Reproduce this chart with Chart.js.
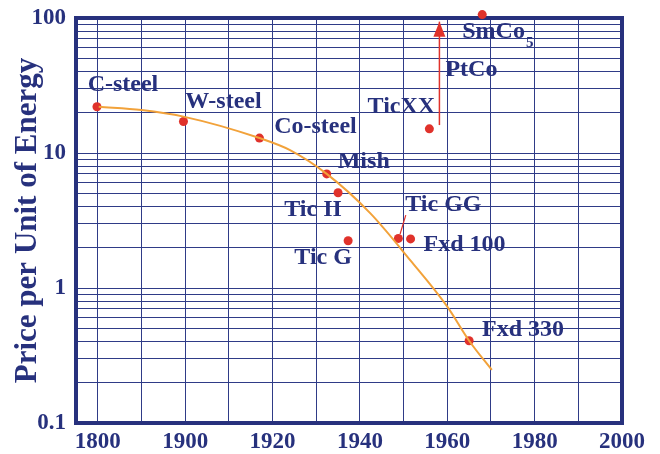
<!DOCTYPE html>
<html><head><meta charset="utf-8">
<script src="https://cdn.jsdelivr.net/npm/chart.js@4/dist/chart.umd.min.js"></script>
<style>html,body{margin:0;padding:0;background:#fff}#wrap{width:660px;height:454px}</style>
</head><body><div id="wrap"><canvas id="c" width="660" height="454"></canvas></div>
<script>
// ---- data ----
const magnetNames  = ['C-steel','W-steel','Co-steel','Mish','Tic II','Tic G','Tic GG','Fxd 100','TicXX','SmCo','Fxd 330'];
const magnetYears  = [1799, 1898, 1917, 1932.4, 1935, 1937.3, 1948.8, 1951.6, 1955.9, 1968, 1965];
const magnetPrices = [22, 17.1, 12.9, 7.0, 5.08, 2.24, 2.33, 2.31, 15.1, 106, 0.407];
const trendYears   = [1801, 1850, 1898, 1917, 1924, 1932.4, 1942.4, 1951.5, 1960, 1965, 1970.2];
const trendPrices  = [22, 20.8, 18.6, 12.9, 10.5, 7.0, 3.57, 1.61, 0.728, 0.407, 0.247];
const ptcoYears    = [1958.2, 1958.2];
const ptcoPrices   = [16.1, 94];
const leaderYears  = [1949.2, 1950.5];
const leaderPrices = [2.51, 3.47];
const xTickYears   = [1800, 1900, 1920, 1940, 1960, 1980, 2000];
const yTickLabels  = [0.1, 1, 10, 100];

// ---- styles ----
const NAVY = '#27317d';
const GRID = '#2f3b87';
const RED = '#e0322b';
const ORANGE = '#f2a23a';
const FONT = '"Liberation Serif", "Times New Roman", serif';
// label offsets (px) relative to each magnet point
const labelOffsets = [[26,-22],[40,-20],[56,-11],[37,-12],[-25,17],[-25,17],[45,-34],[54,6],[-28,-22],[-20,17],[54,-11]];
const ptcoLabel = {text:'PtCo', dx:32, dy:-55};

// broken time axis: 1800..1900 compressed, 10 years per grid step after 1900
function yearToU(y){ return y < 1900 ? (y - 1800) / 50 : 2 + (y - 1900) / 10; }
const toPts = (xs, ys) => xs.map((x,i) => ({x: yearToU(x), y: ys[i]}));

const yGridValues = [];
[0.1, 1, 10].forEach(d => { for (let k = 1; k <= 9; k++) yGridValues.push(+(k*d).toPrecision(3)); });
yGridValues.push(100);

const overlay = {
  id: 'overlay',
  beforeDatasetsDraw(chart){
    const {ctx, chartArea:a} = chart;
    ctx.save();
    ctx.strokeStyle = NAVY; ctx.lineWidth = 4;
    ctx.strokeRect(a.left, a.top, a.right - a.left, a.bottom - a.top);
    ctx.restore();
  },
  afterDatasetsDraw(chart){
    const {ctx} = chart;
    ctx.save();
    // arrow head of PtCo
    const am = chart.getDatasetMeta(1).data;
    const tip = am[am.length-1];
    ctx.fillStyle = RED;
    ctx.beginPath();
    ctx.moveTo(tip.x, tip.y);
    ctx.lineTo(tip.x + 6, tip.y + 15);
    ctx.lineTo(tip.x - 6, tip.y + 15);
    ctx.closePath(); ctx.fill();
    // labels
    ctx.fillStyle = NAVY;
    ctx.font = 'bold 24px ' + FONT;
    ctx.textBaseline = 'middle';
    const pm = chart.getDatasetMeta(3).data;
    magnetNames.forEach((n,i) => {
      const p = pm[i]; const [dx,dy] = labelOffsets[i];
      if (n === 'SmCo') {
        ctx.textAlign = 'left';
        ctx.font = 'bold 24px ' + FONT;
        ctx.fillText(n, p.x + dx, p.y + dy);
        const w = ctx.measureText(n).width;
        ctx.font = 'bold 15px ' + FONT;
        ctx.fillText('5', p.x + dx + w + 1, p.y + dy + 12);
        ctx.font = 'bold 24px ' + FONT;
      } else {
        ctx.textAlign = 'center';
        ctx.fillText(n, p.x + dx, p.y + dy);
      }
    });
    const b = am[0];
    ctx.textAlign = 'center';
    ctx.fillText(ptcoLabel.text, b.x + ptcoLabel.dx, b.y + ptcoLabel.dy);
    ctx.restore();
  }
};

new Chart(document.getElementById('c'), {
  type: 'scatter',
  data: { datasets: [
    { data: toPts(trendYears, trendPrices), showLine: true, borderColor: ORANGE, borderWidth: 2,
      pointRadius: 0, cubicInterpolationMode: 'monotone', clip: false },
    { data: toPts(ptcoYears, ptcoPrices), showLine: true, borderColor: RED, borderWidth: 1.5,
      pointRadius: 0, clip: false },
    { data: toPts(leaderYears, leaderPrices), showLine: true, borderColor: RED, borderWidth: 1.2,
      pointRadius: 0, clip: false },
    { data: toPts(magnetYears, magnetPrices), pointRadius: 4.5, pointBackgroundColor: RED,
      pointBorderWidth: 0, borderColor: RED, clip: false }
  ]},
  options: {
    responsive: false, animation: false, devicePixelRatio: 1,
    layout: { padding: { top: 18, right: 38, left: 0, bottom: 0 } },
    plugins: { legend: { display: false }, tooltip: { enabled: false } },
    scales: {
      x: {
        type: 'linear', min: -0.5, max: 12,
        afterBuildTicks: s => { s.ticks = Array.from({length: 13}, (_, i) => ({value: i})); },
        afterFit: s => { s.height = 31; s.paddingLeft = 0; s.paddingRight = 0; },
        grid: { color: GRID, lineWidth: 1, drawTicks: false },
        border: { display: false },
        ticks: {
          autoSkip: false, maxRotation: 0, padding: 5, color: NAVY,
          font: { family: FONT, size: 23, weight: 'bold' },
          callback: v => { const y = xTickYears.find(t => Math.abs(yearToU(t) - v) < 1e-6); return y === undefined ? '' : String(y); }
        }
      },
      y: {
        type: 'logarithmic', min: 0.1, max: 100,
        afterBuildTicks: s => { s.ticks = yGridValues.map(v => ({value: v})); },
        afterFit: s => { s.width = 76; s.paddingTop = 0; s.paddingBottom = 0; },
        grid: { color: GRID, lineWidth: 1, drawTicks: false },
        border: { display: false },
        ticks: {
          autoSkip: false, padding: 10, color: NAVY,
          font: { family: FONT, size: 23, weight: 'bold' },
          callback: v => yTickLabels.some(t => Math.abs(t - v) < 1e-9) ? String(v) : ''
        },
        title: { display: true, text: 'Price per Unit of Energy', color: NAVY,
          font: { family: FONT, size: 31, weight: 'bold', lineHeight: 1 }, padding: { top: 12, bottom: 0 } }
      }
    }
  },
  plugins: [overlay]
});
</script></body></html>
